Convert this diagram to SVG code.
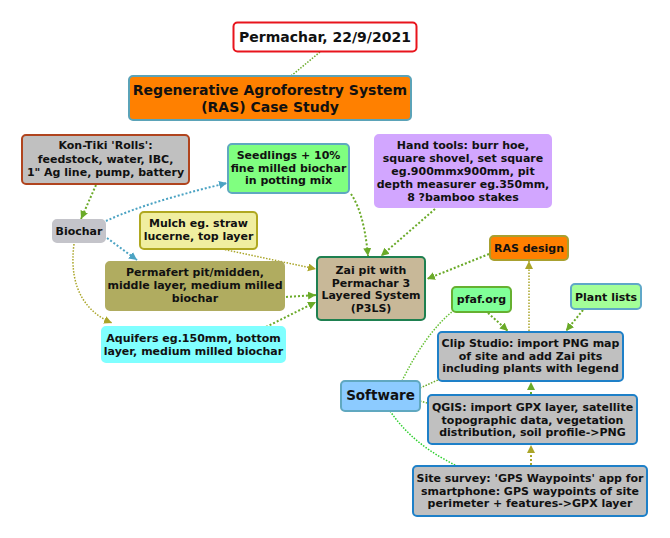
<svg xmlns="http://www.w3.org/2000/svg" width="670" height="538" viewBox="0 0 670 538">
<defs>
<style>
text{font-family:"DejaVu Sans","Liberation Sans",sans-serif;font-weight:bold;fill:#111;text-anchor:middle;font-size:11px}
.big{font-size:14px}
.n rect{stroke-width:2}
.c path{fill:none;stroke-width:2;stroke-dasharray:2 2}
.g{stroke:#6aaa28}
.b{stroke:#4ba3c3}
.o{stroke:#aaa528}
.thin{stroke-width:1.5 !important;stroke-dasharray:1.5 1.5 !important}
</style>
<marker id="ag" markerUnits="userSpaceOnUse" markerWidth="9" markerHeight="9" refX="8" refY="4" orient="auto"><path d="M0,0 L8,4 L0,8 z" fill="#6aaa28"/></marker>
<marker id="ab" markerUnits="userSpaceOnUse" markerWidth="9" markerHeight="9" refX="8" refY="4" orient="auto"><path d="M0,0 L8,4 L0,8 z" fill="#4ba3c3"/></marker>
<marker id="ao" markerUnits="userSpaceOnUse" markerWidth="9" markerHeight="9" refX="8" refY="4" orient="auto"><path d="M0,0 L8,4 L0,8 z" fill="#aaa528"/></marker>
</defs>
<rect width="670" height="538" fill="#fff"/>
<g class="c" id="connectors">
<path class="g thin" d="M320,52 L291,76"/>
<path class="g" d="M96,185 L81,219" marker-end="url(#ag)"/>
<path class="b" d="M106,221 C140,205 190,192 227,183" marker-end="url(#ab)"/>
<path class="b" d="M107,238 L137,260" marker-end="url(#ab)"/>
<path class="o thin" d="M74,244 C68,290 88,313 112,323" marker-end="url(#ao)"/>
<path class="g" d="M351,194 C362,210 366,235 368,256" marker-end="url(#ag)"/>
<path class="g" d="M435,209 L381,256" marker-end="url(#ag)"/>
<path class="o thin" d="M222,249 L316,269" marker-end="url(#ao)"/>
<path class="g" d="M286,297 L316,295" marker-end="url(#ag)"/>
<path class="g" d="M266,327 L316,302" marker-end="url(#ag)"/>
<path class="g" d="M489,254 L427,279" marker-end="url(#ag)"/>
<path class="o thin" d="M529,331 L529,261" marker-end="url(#ao)"/>
<path class="g" d="M488,313 L508,331" marker-end="url(#ag)"/>
<path class="g" d="M583,310 L566,331" marker-end="url(#ag)"/>
<path class="g" d="M531,394 L531,382" marker-end="url(#ag)"/>
<path class="o" d="M531,465 L531,445" marker-end="url(#ao)"/>
<path class="g thin" style="stroke:#66c035" d="M402,381 C416,352 434,326 453,311"/>
<path class="g thin" d="M420,388 L438,380"/>
<path class="g thin" d="M420,401 L427,403"/>
<path class="g thin" style="stroke:#2ed02e" d="M390,411 C410,440 435,455 457,466"/>
</g>
<g class="n" id="permachar"><rect x="233.5" y="22.5" width="183" height="29" rx="4" fill="#fff" stroke="#e8141c"/><text class="big" x="325" y="42">Permachar, 22/9/2021</text></g>
<g class="n" id="ras"><rect x="129" y="76" width="282" height="44" rx="4" fill="#ff8000" stroke="#5ba3b8"/><text class="big" x="270" y="95">Regenerative Agroforestry System</text><text class="big" x="270" y="112">(RAS) Case Study</text></g>
<g class="n" id="kontiki"><rect x="22" y="135" width="167" height="49" rx="4" fill="#c0c0c0" stroke="#b0441e"/><text x="105.5" y="149">Kon-Tiki 'Rolls':</text><text x="105.5" y="162.5">feedstock, water, IBC,</text><text x="105.5" y="175.5">1" Ag line, pump, battery</text></g>
<g class="n" id="seedlings"><rect x="228" y="144" width="121" height="49" rx="4" fill="#80ff80" stroke="#60a8c0"/><text x="288.5" y="159">Seedlings + 10%</text><text x="288.5" y="171.5">fine milled biochar</text><text x="288.5" y="184">in potting mix</text></g>
<g class="n" id="handtools"><rect x="375" y="135" width="176" height="72" rx="4" fill="#d2a6ff" stroke="#d2a6ff"/><text x="463" y="149">Hand tools: burr hoe,</text><text x="463" y="162">square shovel, set square</text><text x="463" y="175">eg.900mmx900mm, pit</text><text x="463" y="188">depth measurer eg.350mm,</text><text x="463" y="201">8 ?bamboo stakes</text></g>
<g class="n" id="biochar"><rect x="53" y="220" width="52" height="22" rx="4" fill="#c4c4ca" stroke="#c4c4ca"/><text x="79" y="235">Biochar</text></g>
<g class="n" id="mulch"><rect x="140" y="212" width="117" height="37" rx="4" fill="#f0eea0" stroke="#b0a820"/><text x="198.5" y="227">Mulch eg. straw</text><text x="198.5" y="240">lucerne, top layer</text></g>
<g class="n" id="permafert"><rect x="106" y="262" width="178" height="48" rx="4" fill="#b0ac60" stroke="#b0ac60"/><text x="195" y="276">Permafert pit/midden,</text><text x="195" y="289">middle layer, medium milled</text><text x="195" y="302">biochar</text></g>
<g class="n" id="aquifers"><rect x="102" y="327" width="183" height="35" rx="4" fill="#80ffff" stroke="#80ffff"/><text x="193.5" y="342">Aquifers eg.150mm, bottom</text><text x="193.5" y="354.5">layer, medium milled biochar</text></g>
<g class="n" id="zai"><rect x="317" y="257" width="108" height="63" rx="4" fill="#c8b898" stroke="#1e8050"/><text x="371" y="274">Zai pit with</text><text x="371" y="286.5">Permachar 3</text><text x="371" y="299">Layered System</text><text x="371" y="312">(P3LS)</text></g>
<g class="n" id="rasdesign"><rect x="490" y="236" width="78" height="24" rx="4" fill="#ff8000" stroke="#a8a030"/><text x="529" y="252">RAS design</text></g>
<g class="n" id="pfaf"><rect x="452" y="287" width="59" height="25" rx="4" fill="#80ff98" stroke="#66b030"/><text x="481.5" y="303">pfaf.org</text></g>
<g class="n" id="plantlists"><rect x="571" y="284" width="70" height="25" rx="4" fill="#a4ff98" stroke="#60a8c8"/><text x="606" y="301">Plant lists</text></g>
<g class="n" id="clip"><rect x="438" y="332" width="185" height="49" rx="4" fill="#c0c0c0" stroke="#1e80c8"/><text x="530.5" y="347">Clip Studio: import PNG map</text><text x="530.5" y="359.5">of site and add Zai pits</text><text x="530.5" y="372">including plants with legend</text></g>
<g class="n" id="software"><rect x="341" y="381" width="79" height="30" rx="4" fill="#8ccbff" stroke="#60a8c0"/><text x="380.5" y="400" style="font-size:13.5px">Software</text></g>
<g class="n" id="qgis"><rect x="428" y="395" width="209" height="49" rx="4" fill="#c0c0c0" stroke="#1e80c8"/><text x="532.5" y="411">QGIS: import GPX layer, satellite</text><text x="532.5" y="423.5">topographic data, vegetation</text><text x="532.5" y="436">distribution, soil profile-&gt;PNG</text></g>
<g class="n" id="survey"><rect x="413" y="466" width="234" height="50" rx="4" fill="#c0c0c0" stroke="#1e80c8"/><text x="530" y="482">Site survey: 'GPS Waypoints' app for</text><text x="530" y="494.5">smartphone: GPS waypoints of site</text><text x="530" y="507">perimeter + features-&gt;GPX layer</text></g>
</svg>
